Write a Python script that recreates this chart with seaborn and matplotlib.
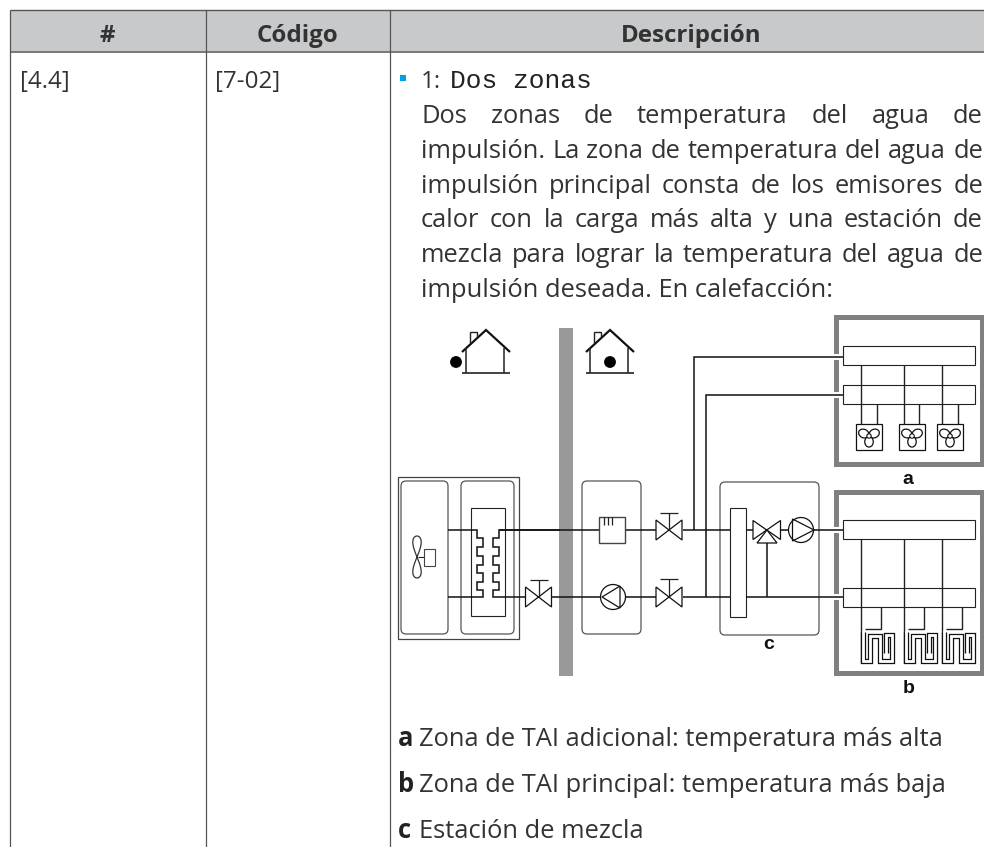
#!/usr/bin/env python3
import numpy as np
import seaborn as sns
import matplotlib.pyplot as plt
from matplotlib.patches import Rectangle, FancyBboxPatch, Circle, Polygon

# table content
HEADERS = ["#", "Código", "Descripción"]
ROW_CODES = ["[4.4]", "[7-02]"]
OPTION_NUM = "1:"
OPTION_NAME = "Dos zonas"
BODY_LINES = [
    "Dos zonas de temperatura del agua de",
    "impulsión. La zona de temperatura del agua de",
    "impulsión principal consta de los emisores de",
    "calor con la carga más alta y una estación de",
    "mezcla para lograr la temperatura del agua de",
    "impulsión deseada. En calefacción:",
]
LEGEND_KEYS = ["a", "b", "c"]
LEGEND_TEXT = [
    "Zona de TAI adicional: temperatura más alta",
    "Zona de TAI principal: temperatura más baja",
    "Estación de mezcla",
]

INK = "#333333"
GRID = "#555555"
FONT = "Open Sans"
SIZE = 17.4
BODY_SIZE = 18.4

sns.set_theme(style="white")
plt.rcParams["font.family"] = [FONT, "DejaVu Sans"]

fig = plt.figure(figsize=(9.84, 8.47), dpi=100)
ax = fig.add_axes([0, 0, 1, 1])
ax.set_axis_off()


def pipe(xs, ys, lw=1.1, color="#111111", z=3):
    sns.lineplot(x=xs, y=ys, sort=False, estimator=None, ax=ax, color=color,
                 linewidth=lw, zorder=z, solid_capstyle="butt", solid_joinstyle="miter")


def thin(xs, ys, lw=0.8, color="#222222", z=3):
    ax.plot(xs, ys, color=color, lw=lw, zorder=z, solid_capstyle="butt", solid_joinstyle="miter")


def box(x0, y0, x1, y1, lw=0.8, ec="#222222", fc="white", z=2):
    ax.add_patch(Rectangle((x0, y0), x1 - x0, y1 - y0, lw=lw, ec=ec, fc=fc, zorder=z))


def rounded(x0, y0, x1, y1):
    ax.add_patch(FancyBboxPatch((x0, y0), x1 - x0, y1 - y0, boxstyle="round,pad=0,rounding_size=5",
                                lw=0.9, ec="#555555", fc="none", zorder=2))


def justified(words, y, x0, x1):
    items = [ax.text(x0, y, w, fontsize=BODY_SIZE, color=INK, va="baseline") for w in words]
    r = fig.canvas.get_renderer()
    widths = [t.get_window_extent(r).width for t in items]
    gap = (x1 - x0 - sum(widths)) / (len(words) - 1)
    x = x0
    for t, w in zip(items, widths):
        t.set_x(x)
        x += w + gap


def house(cx, dot_x):
    pipe([cx - 24, cx, cx + 24], [352, 330, 352], lw=1.6)
    thin([cx - 20, cx - 20], [348, 373], lw=1.1)
    thin([cx + 18, cx + 18], [348, 373], lw=1.1)
    thin([cx - 24, cx + 24], [373, 373], lw=1.2)
    thin([cx - 16, cx - 16, cx - 9, cx - 9], [343, 332, 332, 337], lw=1.0)
    ax.add_patch(Circle((dot_x, 362), 5.2, color="black", zorder=4))


def valve(cx, cy, top):
    ax.add_patch(Polygon([[cx - 13, cy - 10], [cx + 13, cy + 10], [cx + 13, cy - 10], [cx - 13, cy + 10]],
                         closed=True, fc="white", ec="#111111", lw=0.9, zorder=4))
    thin([cx, cx], [top, cy], lw=0.9, z=4)
    thin([cx - 9, cx + 9], [top, top], lw=0.9, z=4)


def pump(cx, cy, pts):
    ax.add_patch(Circle((cx, cy), 12.5, fc="white", ec="#111111", lw=0.9, zorder=4))
    ax.add_patch(Polygon(pts, closed=True, fc="none", ec="#111111", lw=0.9, zorder=5))


def small_fan(cx, cy):
    from matplotlib.patches import Ellipse
    for ang in (205, 335, 90):
        a = np.deg2rad(ang)
        ax.add_patch(Ellipse((cx + 5.8 * np.cos(a), cy + 5.8 * np.sin(a)), 10.5, 8.5, angle=ang,
                             fc="white", ec="#111111", lw=0.9, zorder=4))
    ax.add_patch(Circle((cx, cy), 2.2, fc="white", ec="#111111", lw=0.8, zorder=5))


def big_fan(cx, cy):
    t = np.linspace(0, 2 * np.pi, 80)
    ax.plot(cx + 4.2 * np.sin(2 * t), cy + 21 * np.sin(t), color="#333333", lw=0.9, zorder=3)


def coil(dx):
    xs = np.array([863.2, 863.2, 870, 870, 879.5, 879.5, 891.5, 891.5, 885.5, 885.5]) + dx
    ys = [632, 660.7, 660.7, 636.5, 636.5, 660.7, 660.7, 635.5, 635.5, 653]
    ax.plot(xs, ys, color="#111111", lw=3.8, zorder=3, solid_joinstyle="miter", solid_capstyle="butt")
    ax.plot(xs, ys, color="white", lw=2.0, zorder=3.1, solid_joinstyle="miter", solid_capstyle="projecting")


# table frame
ax.add_patch(Rectangle((10, 10), 974, 42, fc="#c8c9cb", ec="none", zorder=0))
thin([10, 984], [10, 10], lw=1.0, color=GRID, z=1)
thin([10, 984], [52, 52], lw=1.4, color="#777777", z=1)
for xv in (10, 205.5, 389.5):
    thin([xv, xv], [10, 847], lw=0.9, color=GRID, z=1)

for xc, label in zip((107, 297, 691), HEADERS):
    ax.text(xc, 42, label, fontsize=SIZE, fontweight="bold", color=INK, ha="center", va="baseline")
for xt, label in zip((20, 215), ROW_CODES):
    ax.text(xt, 88, label, fontsize=SIZE, color=INK, va="baseline")

ax.add_patch(Rectangle((400, 75), 6, 6, fc="#00a0e4", ec="none"))
ax.text(421, 88, OPTION_NUM, fontsize=SIZE, color=INK, va="baseline")
ax.text(450, 88, OPTION_NAME, fontsize=18.9, color="#222222", va="baseline", family="Liberation Mono")

for i, line in enumerate(BODY_LINES[:-1]):
    justified(line.split(), 123 + i * 34.8, 421, 983)
ax.text(421, 297, BODY_LINES[-1], fontsize=BODY_SIZE, color=INK, va="baseline")

for y, key, txt in zip((746, 792, 838), LEGEND_KEYS, LEGEND_TEXT):
    ax.text(398, y, key, fontsize=BODY_SIZE, fontweight="bold", color="#222222", va="baseline")
    ax.text(419, y, txt, fontsize=BODY_SIZE, color=INK, va="baseline")

# wall and houses
ax.add_patch(Rectangle((559, 328), 14, 348, fc="#999999", ec="none", zorder=1))
house(486, 456)
house(610, 610)

# outdoor unit
box(397.5, 477, 519, 639, lw=0.9, ec="#444444", fc="none")
rounded(401, 481, 448, 634)
rounded(461, 481, 514, 634)
box(471, 508, 505, 616, fc="none")
big_fan(417, 557)
thin([418, 424], [557, 557])
box(424, 549, 435, 566, ec="#444444", z=3)

# heat exchanger
left_x = [448, 477, 477, 483, 483, 477, 477, 483, 483, 477, 477, 483, 483, 477, 477, 483, 483, 448]
right_x = [560, 499, 499, 493, 493, 499, 499, 493, 493, 499, 499, 493, 493, 499, 499, 493, 493, 525]
coil_y = [530, 530, 538, 538, 547, 547, 556, 556, 565, 565, 573, 573, 582, 582, 590, 590, 597, 597]
pipe(left_x, coil_y)
pipe(right_x, coil_y)
valve(538.5, 597, 580)

# indoor unit
rounded(582, 481, 641, 634)
pipe([499, 599], [530, 530])
pipe([552, 600.5], [597, 597])
pipe([625, 657], [530, 530])
pipe([625.5, 657], [597, 597])
box(599, 517, 625, 543, ec="#444444", lw=1.0, z=3)
for xt in (603.5, 607.5, 611.5):
    thin([xt, xt], [517, 525], lw=0.9, z=4)
pump(613, 597, [[602, 597], [620, 586], [620, 608]])
valve(669, 530, 513)
valve(669, 597, 579)

# pipes up to zone a
pipe([683, 730], [530, 530])
pipe([683, 730], [597, 597])
pipe([694, 694, 843], [530, 357, 357])
pipe([706, 706, 843], [597, 395, 395])

# mixing station
rounded(720, 482, 819, 635)
box(730, 508, 746, 617, z=3)
pipe([746, 753], [530, 530])
pipe([780, 792], [530, 530])
pipe([746, 843], [597, 597])
pipe([767, 767], [543, 597])
ax.add_patch(Polygon([[753, 520.5], [780.5, 539.5], [780.5, 520.5], [753, 539.5]], closed=True,
                     fc="white", ec="#111111", lw=0.9, zorder=4))
ax.add_patch(Polygon([[767, 530], [777, 543], [757, 543]], closed=True, fc="white", ec="#111111", lw=0.9, zorder=4))
pump(801, 530, [[792.5, 519], [814, 530], [792.5, 541]])
pipe([813.5, 843], [530, 530], z=3)

# zone frames
for y0, y1, gaps in ((317.5, 464.5, (357, 395)), (492.5, 673, (530, 597))):
    box(835.5, y0, 981.5, y1, lw=3.6, ec="#808080", fc="none", z=1)
    for yg in gaps:
        ax.add_patch(Rectangle((832, yg - 3), 8, 6, fc="white", ec="none", zorder=2))

# zone a emitters
box(843, 346, 975, 365, z=2)
box(843, 385, 975, 404, z=2)
for xa, xb in ((861, 877), (904, 919), (942, 958)):
    thin([xa, xa], [365, 424], lw=1.0)
    thin([xb, xb], [404, 424], lw=1.0)
for x0 in (856, 899, 937):
    box(x0, 424, x0 + 26, 450, lw=0.9, ec="#111111")
    small_fan(x0 + 13, 436)

# zone b emitters
box(843, 520, 975, 539, z=2)
box(843, 588, 975, 607, z=2)
for xa, xb, dx in ((861, 881, 0), (904, 924, 43), (942, 962, 81)):
    thin([xa, xa], [539, 663], lw=1.0)
    thin([xb, xb, xa + 4], [607, 629, 629], lw=1.0)
    coil(dx)

for xt, yt, key in ((908, 484, "a"), (909, 693, "b"), (769, 649, "c")):
    ax.text(xt, yt, key, fontsize=14, fontweight="bold", color="#111111", ha="center", va="baseline",
            family="Liberation Sans")

ax.set_xlim(0, 984)
ax.set_ylim(847, 0)
ax.set_xlabel("")
ax.set_ylabel("")
fig.savefig("out.png", dpi=100)
plt.close(fig)
